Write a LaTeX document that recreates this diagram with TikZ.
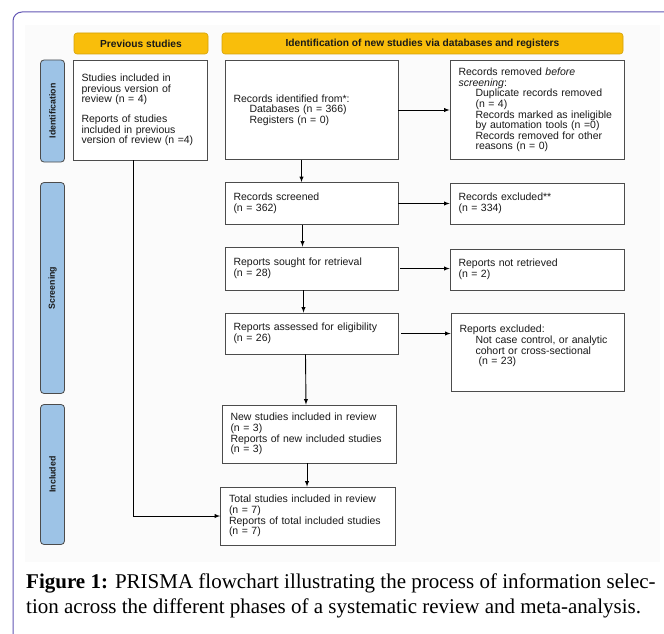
\documentclass[tikz,border=0pt]{standalone}
\usepackage{fontspec}
\setmainfont{Liberation Sans}
\newfontfamily\capfont{Liberation Serif}
\usepackage{tikz}
\definecolor{headyellow}{HTML}{F9BE0B}
\definecolor{sideblue}{HTML}{9DC3E6}
\definecolor{framepurple}{HTML}{6357B5}

\begin{document}
\begin{tikzpicture}[x=1pt, y=-1pt, >=latex,
    box/.style={draw=black!70, line width=0.8pt, fill=white, inner xsep=8.5pt, inner ysep=2pt,
                text width=156pt, align=left, text=black!90, font=\fontsize{10.5}{10.6}\selectfont},
    head/.style={draw=headyellow!85!black, fill=headyellow, rounded corners=3pt, line width=0.6pt,
                 minimum height=21pt, font=\bfseries\fontsize{10.2}{11}\selectfont, text=black!90},
    side/.style={draw=black!70, fill=sideblue, rounded corners=3.5pt, line width=0.8pt, rotate=90,
                 minimum height=24pt, font=\bfseries\fontsize{8.8}{9}\selectfont, text=black!90},
    arr/.style={->, line width=0.9pt, black}]
      \path[use as bounding box, clip] (0,0) rectangle (664,634);
      \fill[white] (0,0) rectangle (664,634);
      \draw[framepurple, line width=1pt, rounded corners=9pt] (13,700) -- (13,12) -- (720,12); %%% outer frame
      \fill[black!1.5] (25,25) rectangle (660,562);

      %%% column headers
      \node[head, minimum width=134pt] (prevhead)  at (141,43.5)   {Previous studies};
      \node[head, minimum width=401pt] (identhead) at (422.5,43.5) {Identification of new studies via databases and registers};

      %%% phase labels
      \node[side, minimum width=102pt] (sideid)  at (52.5,111)   {Identification};
      \node[side, minimum width=211pt] (sidescr) at (52.5,288)   {Screening};
      \node[side, minimum width=140pt] (sideinc) at (52.5,474.5) {Included};

      %%% boxes
      \node[box, text width=117pt, minimum height=100pt] (prev) at (140,110)
        {Studies included in\\previous version of\\review (n = 4)\\[9pt]Reports of studies\\included in previous\\version of review (n =4)};
      \node[box, minimum height=99pt] (ident) at (311.5,110)
        {Records identified from*:\\\hspace*{16pt}Databases (n = 366)\\\hspace*{16pt}Registers (n = 0)};
      \node[box, text width=157pt, minimum height=99pt] (removed) at (537,110)
        {Records removed \textit{before}\\\textit{screening}:\\\hspace*{17pt}Duplicate records removed\\\hspace*{17pt}(n = 4)\\\hspace*{17pt}Records marked as ineligible\\\hspace*{17pt}by automation tools (n =0)\\\hspace*{17pt}Records removed for other\\\hspace*{17pt}reasons (n = 0)};
      \node[box, minimum height=42pt] (screened) at (311.5,203.5) {Records screened\\(n = 362)\\[2pt]};
      \node[box, text width=157pt, minimum height=41pt] (excluded) at (537,203.5) {Records excluded**\\(n = 334)\\[2pt]};
      \node[box, minimum height=43pt] (sought) at (311.5,268.5) {Reports sought for retrieval\\(n = 28)\\[2pt]};
      \node[box, text width=157pt, minimum height=41pt] (notret) at (537,269.5) {Reports not retrieved\\(n = 2)};
      \node[box, minimum height=41pt] (assessed) at (311.5,333.5) {Reports assessed for eligibility\\(n = 26)\\[2pt]};
      \node[box, text width=156pt, minimum height=78pt, text depth=46pt] (repexcl) at (537.5,352)
        {Reports excluded:\\\hspace*{16pt}Not case control, or analytic\\\hspace*{16pt}cohort or cross-sectional\\\hspace*{19pt}(n = 23)};
      \node[box, text width=157pt, minimum height=58pt] (newst) at (309,434)
        {New studies included in review\\(n = 3)\\Reports of new included studies\\(n = 3)};
      \node[box, text width=158pt, minimum height=58pt] (total) at (308,516)
        {Total studies included in review\\(n = 7)\\Reports of total included studies\\(n = 7)};

      %%% arrows down the middle
      \draw[arr] ([xshift=-10pt]ident.south)    -- ([xshift=-10pt]screened.north);
      \draw[arr] ([xshift=-9pt]screened.south)  -- ([xshift=-9pt]sought.north);
      \draw[arr] ([xshift=-8pt]sought.south)    -- ([xshift=-8pt]assessed.north);
      \draw[arr] ([xshift=-6pt]assessed.south)  -- ([xshift=-3pt]newst.north);
      \draw[arr] ([xshift=-2pt]newst.south)     -- ([xshift=-1pt]total.north);

      %%% arrows to the right
      \draw[arr] (ident.east)    -- (removed.west);
      \draw[arr] (screened.east) -- (excluded.west);
      \draw[arr, shorten <=2pt] (sought.east) -- (sought.east -| notret.west);
      \draw[arr, shorten <=3pt] (assessed.east) -- (assessed.east -| repexcl.west);

      %%% previous studies down to the total
      \draw[arr] ([xshift=-7pt]prev.south) |- (total.west);

      %%% caption
      \node[anchor=north west, align=left, inner sep=0pt, font=\capfont\fontsize{21}{24.5}\selectfont] (caption) at (26,574)
        {\textbf{Figure 1:} PRISMA flowchart illustrating the process of information selec-\\tion across the different phases of a systematic review and meta-analysis.};
    \end{tikzpicture}
\end{document}
